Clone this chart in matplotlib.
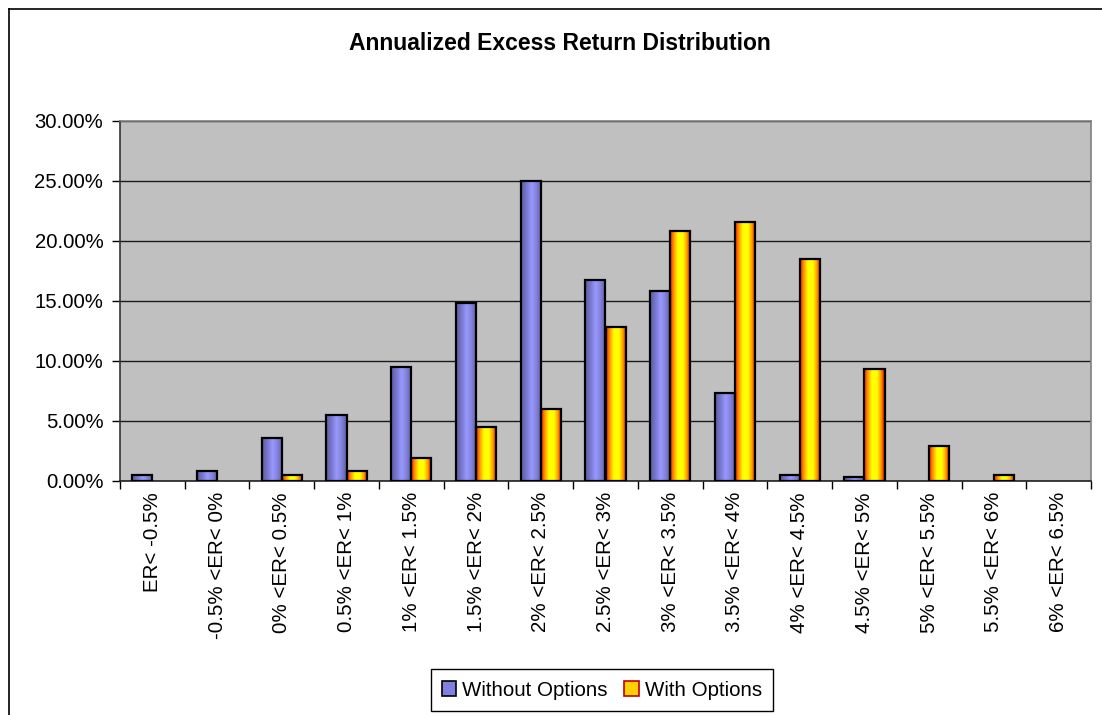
import numpy as np
import matplotlib
matplotlib.use("Agg")
import matplotlib.pyplot as plt
from matplotlib.colors import LinearSegmentedColormap
from matplotlib.lines import Line2D
from matplotlib.patches import Patch
from matplotlib.ticker import FuncFormatter, FixedLocator

plt.rcParams['font.family'] = ['Liberation Sans', 'DejaVu Sans']

categories = ["ER< -0.5%", "-0.5% <ER< 0%", "0% <ER< 0.5%", "0.5% <ER< 1%",
              "1% <ER< 1.5%", "1.5% <ER< 2%", "2% <ER< 2.5%", "2.5% <ER< 3%",
              "3% <ER< 3.5%", "3.5% <ER< 4%", "4% <ER< 4.5%", "4.5% <ER< 5%",
              "5% <ER< 5.5%", "5.5% <ER< 6%", "6% <ER< 6.5%"]
without_options = [0.5, 0.8, 3.6, 5.5, 9.5, 14.8, 25.0, 16.75, 15.8, 7.35, 0.5, 0.3, 0.0, 0.0, 0.0]
with_options = [0.0, 0.0, 0.5, 0.8, 1.9, 4.5, 6.0, 12.85, 20.8, 21.6, 18.5, 9.3, 2.95, 0.5, 0.0]
series_names = ["Without Options", "With Options"]
yticks = [0, 5, 10, 15, 20, 25, 30]

W, H = 1102, 715
fig = plt.figure(figsize=(W / 100, H / 100), dpi=100)
ax = fig.add_axes([120 / W, 1 - 481 / H, (1091 - 120) / W, (481 - 121) / H])
ax.set_facecolor('#C0C0C0')

blue_cmap = LinearSegmentedColormap.from_list(
    'b', [(0, '#5C5CA0'), (0.3, '#7C7CD6'), (0.5, '#9999FF'), (0.72, '#8585E0'), (1, '#5E5EA4')])
yel_cmap = LinearSegmentedColormap.from_list(
    'y', [(0, '#FF1A00'), (0.18, '#FF9900'), (0.38, '#FFFF00'), (0.62, '#FFFF00'),
          (0.82, '#FF9900'), (1, '#D80000')])

x = np.arange(len(categories))
bw = 0.31
b1 = ax.bar(x - bw / 2, without_options, bw, facecolor='none', edgecolor='black', linewidth=1.6, zorder=3)
b2 = ax.bar(x + bw / 2, with_options, bw, facecolor='none', edgecolor='black', linewidth=1.6, zorder=3)

grad = np.linspace(0, 1, 64)[np.newaxis, :]
for bars, cmap in ((b1, blue_cmap), (b2, yel_cmap)):
    for r in bars:
        h = r.get_height()
        if h <= 0:
            r.set_visible(False)
            continue
        x0, y0, w = r.get_x(), r.get_y(), r.get_width()
        ax.imshow(grad, cmap=cmap, extent=[x0, x0 + w, y0, y0 + h], aspect='auto',
                  interpolation='bilinear', zorder=2.5)

ax.set_xlim(-0.5, len(categories) - 0.5)
ax.set_ylim(0, 30)
ax.set_aspect('auto')

ax.yaxis.set_major_locator(FixedLocator(yticks))
ax.yaxis.set_major_formatter(FuncFormatter(lambda v, p: f"{v:.2f}%"))
ax.grid(axis='y', color='#1a1a1a', linewidth=1.0, zorder=1)
ax.set_axisbelow(True)

ax.set_xticks(np.arange(len(categories) + 1) - 0.5)
ax.set_xticklabels([])
ax.set_xticks(x, minor=True)
ax.set_xticklabels(categories, minor=True, rotation=90, fontsize=14.8)
ax.tick_params(axis='x', which='minor', length=0, pad=8)
ax.tick_params(axis='x', which='major', length=6, width=1, direction='out')
ax.tick_params(axis='y', length=6, width=1, direction='out', labelsize=14.6, pad=6)

ax.spines['left'].set_color('#333333')
ax.spines['bottom'].set_color('#222222')
ax.spines['top'].set_color('#808080')
ax.spines['right'].set_color('#808080')
for s in ax.spines.values():
    s.set_linewidth(1.2)

fig.text(560 / W, 1 - 44 / H, "Annualized Excess Return Distribution", ha='center', va='center',
         fontsize=16.5, fontweight='bold')

# outer chart border (left and top visible)
fig.add_artist(Line2D([9 / W, 9 / W], [1 - 9 / H, 0], color='black', linewidth=1.2))
fig.add_artist(Line2D([9 / W, 1], [1 - 9 / H, 1 - 9 / H], color='black', linewidth=1.2))

handles = [Patch(facecolor='#8080E0', edgecolor='black', linewidth=1.2),
           Patch(facecolor='#FFD000', edgecolor='#C00000', linewidth=1.2)]
leg = fig.legend(handles, series_names, loc='center', bbox_to_anchor=(602 / W, 1 - 690 / H),
                 ncol=2, fontsize=14.8, frameon=True, fancybox=False, edgecolor='black',
                 handlelength=0.7, handleheight=0.7, handletextpad=0.3, columnspacing=0.8,
                 borderpad=0.55, framealpha=1)
leg.get_frame().set_linewidth(1.0)

fig.savefig("out.png", dpi=100)
